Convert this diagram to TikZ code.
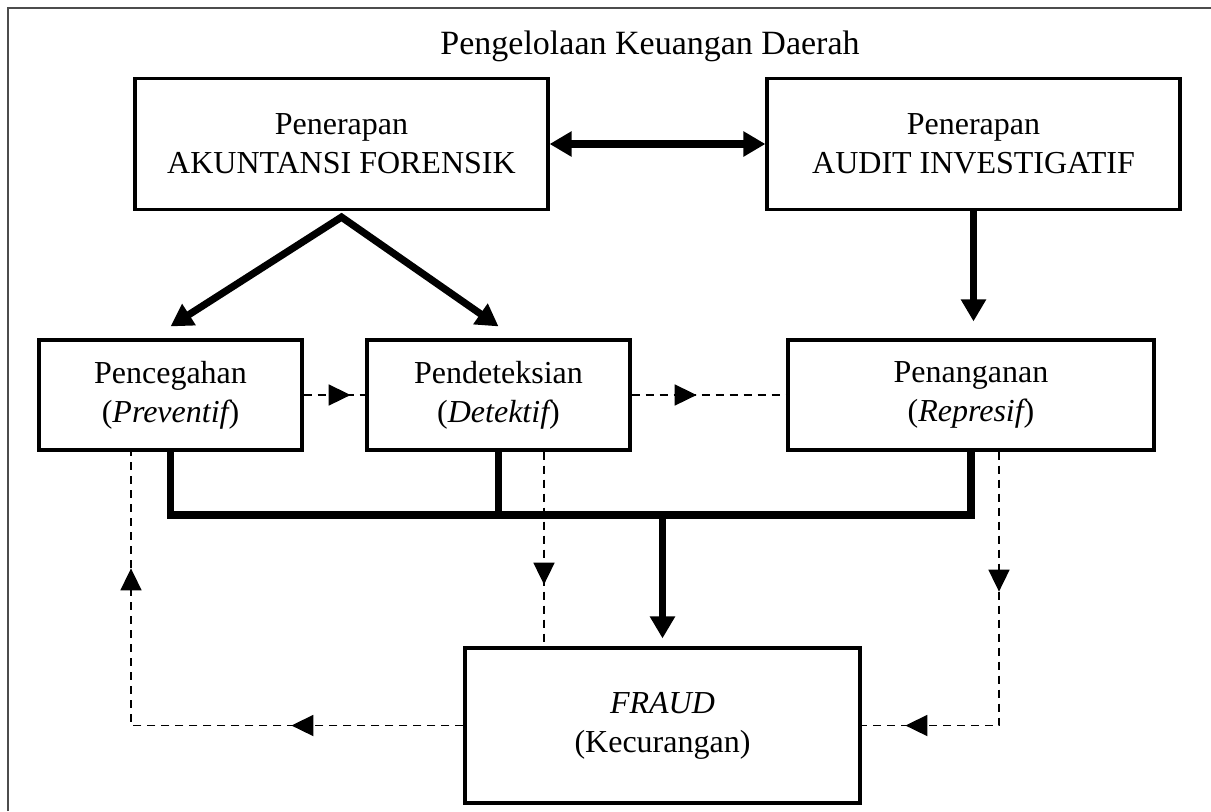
\documentclass[tikz,border=0pt]{standalone}
\usepackage{fontspec}
\setmainfont{Liberation Serif}
\usetikzlibrary{arrows.meta, positioning, decorations.markings}

\begin{document}
\begin{tikzpicture}[x=0.5pt, y=-0.5pt, >={Triangle[length=11pt, width=12pt]},
  box/.style={draw, line width=1.6pt, align=center, inner sep=0pt, font=\fontsize{16}{19.5}\selectfont},
  thickline/.style={line width=3.6pt},
  dashline/.style={line width=0.9pt, dash pattern=on 4pt off 3pt},
  dtip/.tip={Triangle[length=11pt, width=10.5pt]},
  tipat/.style={postaction={decorate}, decoration={markings, mark=at position #1 with {\arrow{dtip}}}},
  tipsat/.style 2 args={postaction={decorate}, decoration={markings,
    mark=at position #1 with {\arrow{dtip}}, mark=at position #2 with {\arrow{dtip}}}}]
  \useasboundingbox (0,0) rectangle (1211,811);
  % Frame
  \draw[line width=1pt, black!70] (8,811) -- (8,8) -- (1211,8);
  % Title
  \node[font=\fontsize{17}{20}\selectfont, anchor=base] (title) at (650,54) {Pengelolaan Keuangan Daerah};
  % Top boxes
  \node[box, minimum width=206.5pt, minimum height=65.5pt] (af) at (341.5,144) {Penerapan\\AKUNTANSI FORENSIK};
  \node[box, minimum width=206.5pt, minimum height=65.5pt] (ai) at (973.5,144) {Penerapan\\AUDIT INVESTIGATIF};
  % Middle boxes
  \foreach \name/\x/\w/\word/\kind in {prev/170.5/131.5/Pencegahan/Preventif,
      det/498.5/131.5/Pendeteksian/Detektif, rep/971/183/Penanganan/Represif} {
    \node[box, minimum width=\w pt, minimum height=55pt] (\name) at (\x,395) {\word\\({\itshape\kind})};
  }
  % Bottom box
  \node[box, minimum width=197.5pt, minimum height=77.5pt] (fraud) at (662.5,725.5) {{\itshape FRAUD}\\(Kecurangan)};
  % Thick connections
  \draw[thickline, <->] (af) -- (ai);
  \draw[thickline, <->] ([yshift=6pt]prev.north) -- ([yshift=-3pt]af.south) -- ([yshift=6pt]det.north);
  \draw[thickline, ->] (ai.south) -- ([yshift=8.5pt]ai.south |- rep.north);
  \coordinate (hub) at (662.5,515);
  \draw[thickline] (prev.south) |- (hub) -| (rep.south);
  \draw[thickline] (det.south) -- (det.south |- hub);
  \draw[thickline, ->] (hub) -- ([yshift=4pt]fraud.north);
  % Dashed connections
  \draw[dashline, tipat=23.5pt] (prev.east) -- (det.west);
  \draw[dashline, tipat=32.5pt] (det.east) -- (rep.west);
  \draw[dashline, tipat=66.5pt] ([xshift=22.75pt]det.south) -- ([xshift=22.75pt]det.south |- fraud.north);
  \draw[dashline, tipsat={70pt}{183.75pt}] ([xshift=14pt]rep.south) |- (fraud.east);
  \draw[dashline, tipsat={86pt}{244.75pt}] (fraud.west) -| ([xshift=-19.75pt]prev.south);
\end{tikzpicture}
\end{document}
